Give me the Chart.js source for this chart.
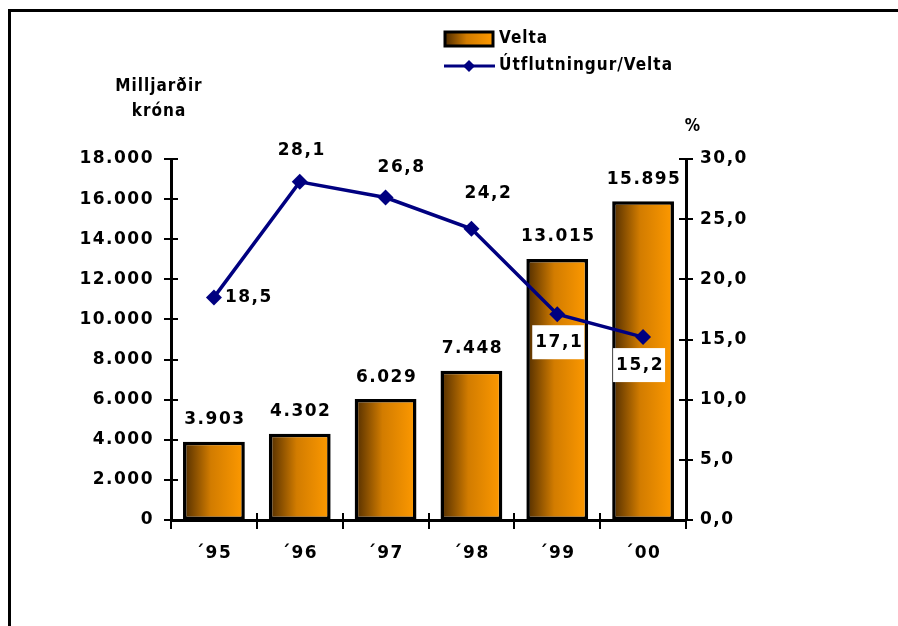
<!DOCTYPE html>
<html>
<head>
<meta charset="utf-8">
<script src="https://cdn.jsdelivr.net/npm/chart.js@4.4.1/dist/chart.umd.min.js"></script>
<style>
  html, body { margin: 0; padding: 0; background: #fff; }
  #wrap { position: relative; width: 898px; height: 626px; overflow: hidden; }
  #frame { position: absolute; left: 8px; top: 9px; right: -10px; bottom: -10px;
           border-top: 3px solid #000; border-left: 3px solid #000; }
  #chart { position: absolute; left: 0; top: 0; }
</style>
</head>
<body>
<div id="wrap">
  <div id="frame"></div>
  <canvas id="chart" width="898" height="626"></canvas>
</div>
<script>
// data
const years = ['´95', '´96', '´97', '´98', '´99', '´00'];
const velta = [3903, 4302, 6029, 7448, 13015, 15895];
const hlutfall = [18.5, 28.1, 26.8, 24.2, 17.1, 15.2];
const leftAxisTitle = ['Milljarðir', 'króna'];
const rightAxisTitle = '%';

const NUM_FONT = { family: '"DejaVu Sans", Verdana, sans-serif', size: 17, weight: 'bold' };
const NARROW = 'bold 17px "DejaVu Sans Condensed", "Liberation Sans Narrow", "DejaVu Sans", sans-serif';
const NAVY = '#000080';
const SPACING = '1.5px';

const fmtThousands = (v) => Math.round(v).toString().replace(/\B(?=(\d{3})+(?!\d))/g, '.');
const fmtPct = (v) => v.toFixed(1).replace('.', ',');

function barGradient(ctx, left, right) {
  const g = ctx.createLinearGradient(left, 0, right, 0);
  g.addColorStop(0, '#4f2c00');
  g.addColorStop(0.45, '#d27c00');
  g.addColorStop(1, '#ff9a00');
  return g;
}

// letter spacing like the original bitmap font
const spacing = {
  id: 'spacing',
  beforeUpdate(chart) { chart.ctx.letterSpacing = SPACING; },
  beforeDraw(chart) { chart.ctx.letterSpacing = SPACING; },
};

// ticks that cross the axis lines
const crossTicks = {
  id: 'crossTicks',
  afterDraw(chart) {
    const { ctx, chartArea } = chart;
    const { x, y, y2 } = chart.scales;
    ctx.save();
    ctx.strokeStyle = '#000';
    ctx.lineWidth = 2;
    ctx.beginPath();
    y.ticks.forEach((t) => {
      const py = Math.round(y.getPixelForValue(t.value));
      ctx.moveTo(chartArea.left - 7, py);
      ctx.lineTo(chartArea.left + 7, py);
    });
    y2.ticks.forEach((t) => {
      const py = Math.round(y2.getPixelForValue(t.value));
      ctx.moveTo(chartArea.right - 7, py);
      ctx.lineTo(chartArea.right + 7, py);
    });
    for (let i = 0; i <= years.length; i++) {
      const px = Math.round(x.getPixelForValue(i - 0.5));
      ctx.moveTo(px, chartArea.bottom - 7);
      ctx.lineTo(px, chartArea.bottom + 9);
    }
    ctx.stroke();
    ctx.restore();
  },
};

// value labels, legend and axis titles
const labels = {
  id: 'labels',
  afterDatasetsDraw(chart) {
    const ctx = chart.ctx;
    ctx.save();
    ctx.font = `bold ${NUM_FONT.size}px ${NUM_FONT.family}`;
    ctx.fillStyle = '#000';
    ctx.textAlign = 'center';
    ctx.textBaseline = 'middle';
    ctx.letterSpacing = SPACING;

    chart.getDatasetMeta(0).data.forEach((el, i) => {
      ctx.fillText(fmtThousands(velta[i]), el.x + 1, el.y - 22);
    });

    const offs = [
      { dx: 34, dy: 0 },
      { dx: 1, dy: -31 },
      { dx: 15, dy: -30 },
      { dx: 16, dy: -35 },
      { dx: 1, dy: 28, box: true },
      { dx: -4, dy: 28, box: true },
    ];
    chart.getDatasetMeta(1).data.forEach((el, i) => {
      const o = offs[i];
      const tx = el.x + o.dx, ty = el.y + o.dy;
      if (o.box) {
        ctx.fillStyle = '#fff';
        ctx.fillRect(tx - 26, ty - 17, 52, 34);
        ctx.fillStyle = '#000';
      }
      ctx.fillText(fmtPct(hlutfall[i]), tx + 1, ty);
    });
    ctx.restore();
  },
  afterDraw(chart) {
    const ctx = chart.ctx;
    const ds = chart.data.datasets;
    ctx.save();
    ctx.letterSpacing = '1px';
    ctx.font = NARROW;
    ctx.fillStyle = '#000';
    ctx.textBaseline = 'middle';

    // legend
    ctx.fillStyle = barGradient(ctx, 445, 493);
    ctx.fillRect(445, 32, 48, 14);
    ctx.strokeStyle = '#000';
    ctx.lineWidth = 3;
    ctx.strokeRect(445, 32, 48, 14);
    ctx.fillStyle = '#000';
    ctx.textAlign = 'left';
    ctx.fillText(ds[0].label, 499, 39);

    ctx.strokeStyle = NAVY;
    ctx.lineWidth = 3;
    ctx.beginPath();
    ctx.moveTo(444, 66);
    ctx.lineTo(495, 66);
    ctx.stroke();
    ctx.fillStyle = NAVY;
    ctx.beginPath();
    ctx.moveTo(469, 60); ctx.lineTo(475, 66); ctx.lineTo(469, 72); ctx.lineTo(463, 66);
    ctx.closePath();
    ctx.fill();
    ctx.fillStyle = '#000';
    ctx.fillText(ds[1].label, 499, 66);

    // axis titles
    ctx.textAlign = 'center';
    ctx.fillText(leftAxisTitle[0], 159, 87);
    ctx.fillText(leftAxisTitle[1], 159, 112);
    ctx.fillText(rightAxisTitle, 693, 127);
    ctx.restore();
  },
};

new Chart(document.getElementById('chart'), {
  data: {
    labels: years,
    datasets: [
      {
        type: 'bar',
        label: 'Velta',
        data: velta,
        yAxisID: 'y',
        order: 1,
        backgroundColor: (c) => {
          const xs = c.chart.scales.x;
          if (!xs || !c.chart.chartArea) return '#ff9900';
          const cx = xs.getPixelForValue(c.dataIndex);
          const half = (xs.width / years.length) * 0.36;
          return barGradient(c.chart.ctx, cx - half, cx + half);
        },
        borderColor: '#000',
        borderWidth: 3.5,
        borderSkipped: false,
        categoryPercentage: 1,
        barPercentage: 0.72,
      },
      {
        type: 'line',
        label: 'Útflutningur/Velta',
        data: hlutfall,
        yAxisID: 'y2',
        order: 0,
        borderColor: NAVY,
        backgroundColor: NAVY,
        borderWidth: 3.5,
        pointStyle: 'rectRot',
        pointRadius: 8,
        pointBorderWidth: 0,
        tension: 0,
      },
    ],
  },
  plugins: [spacing, crossTicks, labels],
  options: {
    responsive: false,
    animation: false,
    devicePixelRatio: 1,
    layout: { padding: { top: 159, left: 0, right: 0, bottom: 0 } },
    plugins: {
      legend: { display: false },
      tooltip: { enabled: false },
    },
    scales: {
      x: {
        offset: true,
        afterFit: (s) => { s.height = 106; },
        grid: { display: false, drawTicks: false },
        border: { display: true, color: '#000', width: 3 },
        ticks: { color: '#000', font: NUM_FONT, padding: 23 },
      },
      y: {
        position: 'left',
        min: 0,
        max: 18000,
        afterFit: (s) => { s.width = 171; },
        grid: { display: false, drawTicks: false },
        border: { display: true, color: '#000', width: 3 },
        ticks: {
          stepSize: 2000,
          color: '#000',
          font: NUM_FONT,
          padding: 17,
          callback: (v) => fmtThousands(v),
        },
      },
      y2: {
        position: 'right',
        min: 0,
        max: 30,
        afterFit: (s) => { s.width = 212; },
        grid: { display: false, drawTicks: false },
        border: { display: true, color: '#000', width: 3 },
        ticks: {
          stepSize: 5,
          color: '#000',
          font: NUM_FONT,
          padding: 14,
          callback: (v) => fmtPct(v),
        },
      },
    },
  },
});
</script>
</body>
</html>
